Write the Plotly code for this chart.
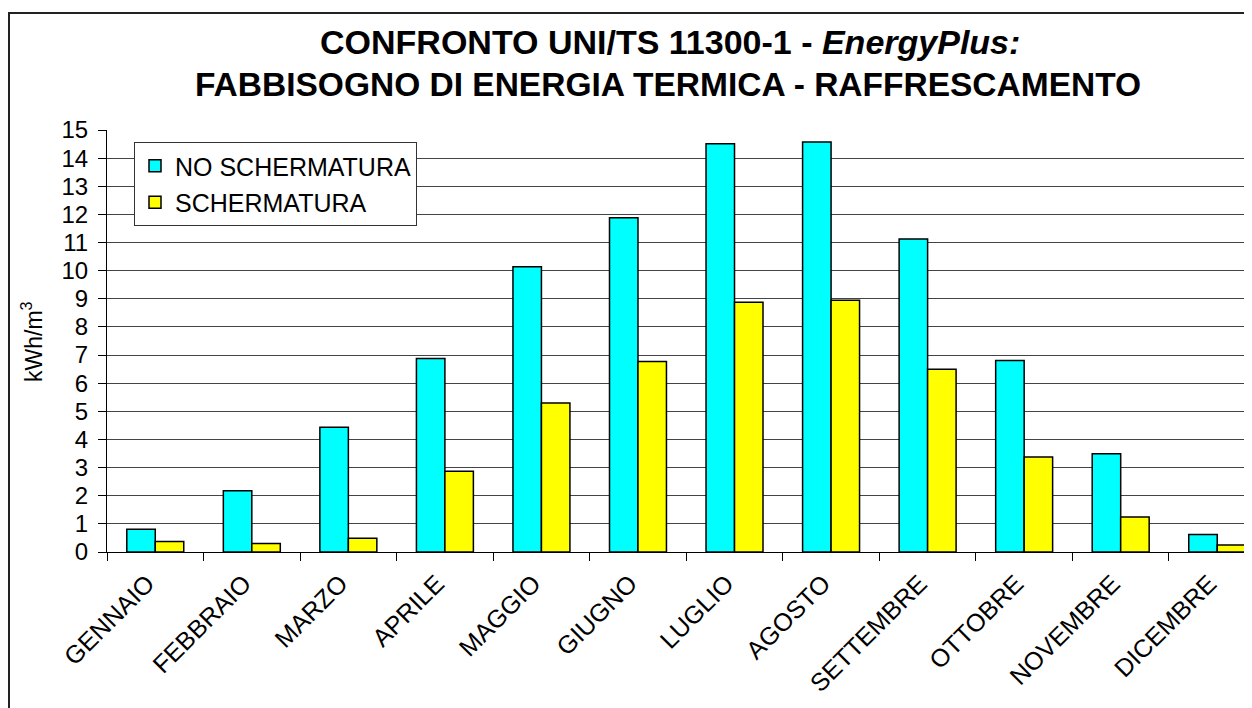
import plotly.graph_objects as go

months = ["GENNAIO", "FEBBRAIO", "MARZO", "APRILE", "MAGGIO", "GIUGNO",
          "LUGLIO", "AGOSTO", "SETTEMBRE", "OTTOBRE", "NOVEMBRE", "DICEMBRE"]
no_schermatura = [0.81, 2.18, 4.43, 6.88, 10.14, 11.88, 14.51, 14.57, 11.13, 6.81, 3.49, 0.62]
schermatura = [0.37, 0.30, 0.49, 2.87, 5.30, 6.77, 8.88, 8.95, 6.50, 3.38, 1.24, 0.25]
y_ticks = list(range(0, 16))

FONT = "Liberation Sans, Arial, sans-serif"

fig = go.Figure()
fig.add_trace(go.Bar(name="NO SCHERMATURA", x=months, y=no_schermatura, legendgroup="a",
                     marker=dict(color="#00FFFF", line=dict(color="black", width=1.5))))
fig.add_trace(go.Bar(name="SCHERMATURA", x=months, y=schermatura, legendgroup="b",
                     marker=dict(color="#FFFF00", line=dict(color="black", width=1.5))))

# page has an 8px body margin, so the figure is offset by (8, 8)
OFF = 8
W, H = 1252 - OFF, 708 - OFF
L, R, T, B = 107 - OFF, 0, 130 - OFF, 708 - 552
pw = W - L - R
ph = H - T - B


def px(xpage):
    return (xpage - OFF - L) / pw


def py(ypage):
    return (H - B - (ypage - OFF)) / ph


fig.update_layout(
    width=W, height=H,
    margin=dict(l=L, r=R, t=T, b=B),
    paper_bgcolor="white", plot_bgcolor="white",
    barmode="group", bargap=0.41, bargroupgap=0,
    font=dict(family=FONT, color="black"),
    showlegend=True,
    legend=dict(
        x=px(134), y=py(142), xanchor="left", yanchor="top",
        bgcolor="white", bordercolor="#333", borderwidth=1,
        font=dict(size=25, family=FONT, color="black"),
        tracegroupgap=1,
    ),
    xaxis=dict(
        range=[-0.5, 11.5 - (1265.5 - 1252) / 96.5],
        showline=True, linecolor="black", linewidth=1,
        ticks="outside", ticklen=8, tickcolor="black", tickson="boundaries",
        tickangle=-45, tickfont=dict(size=25, family=FONT, color="black"),
        ticklabelshift=-8, ticklabelstandoff=6,
        showgrid=False,
    ),
    yaxis=dict(
        range=[0, 15], tickvals=y_ticks, ticktext=[str(v) for v in y_ticks],
        showline=True, linecolor="black", linewidth=1,
        ticks="outside", ticklen=8, tickcolor="black",
        ticklabelstandoff=5,
        showgrid=True, gridcolor="#444", gridwidth=1,
        tickfont=dict(size=24, family=FONT, color="black"),
        zeroline=False,
    ),
    annotations=[
        dict(text="<b>CONFRONTO UNI/TS 11300-1 - <i>EnergyPlus:</i></b>",
             xref="paper", yref="paper", x=px(670), y=py(42),
             xanchor="center", yanchor="middle", showarrow=False,
             font=dict(size=34, family=FONT, color="black")),
        dict(text="<b>FABBISOGNO DI ENERGIA TERMICA - RAFFRESCAMENTO</b>",
             xref="paper", yref="paper", x=px(668), y=py(85),
             xanchor="center", yanchor="middle", showarrow=False,
             font=dict(size=33.5, family=FONT, color="black")),
        dict(text="kWh/m<sup>3</sup>", textangle=-90,
             xref="paper", yref="paper", x=px(32), y=py(342),
             xanchor="center", yanchor="middle", showarrow=False,
             font=dict(size=23, family=FONT, color="black")),
    ],
    shapes=[dict(
        type="rect", xref="paper", yref="paper",
        x0=px(9), x1=1.05, y0=-0.5, y1=py(13),
        line=dict(color="#222", width=2), fillcolor="rgba(0,0,0,0)", layer="below",
    )],
)

fig.write_html("out.html")
